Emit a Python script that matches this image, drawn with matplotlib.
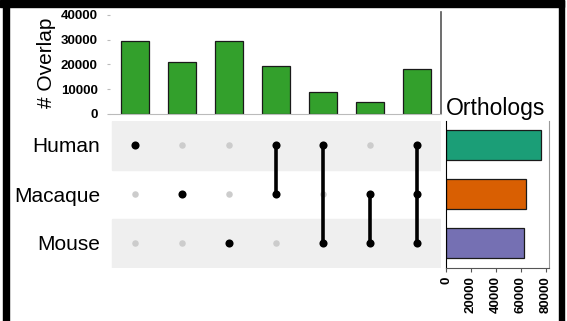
import matplotlib.pyplot as plt
from matplotlib.patches import Rectangle

plt.rcParams['font.family'] = ['Liberation Sans', 'DejaVu Sans']

species = ["Human", "Macaque", "Mouse"]
species_colors = ["#1b9e77", "#d95f02", "#7570b3"]
set_sizes = [76000, 64200, 62100]

# which species take part in each intersection, left to right
intersections = [
    ["Human"],
    ["Macaque"],
    ["Mouse"],
    ["Human", "Macaque"],
    ["Human", "Mouse"],
    ["Macaque", "Mouse"],
    ["Human", "Macaque", "Mouse"],
]
overlap = [29600, 20900, 29500, 19400, 8800, 5000, 18200]

overlap_ticks = [0, 10000, 20000, 30000, 40000]
size_ticks = [0, 20000, 40000, 60000, 80000]

W, H = 567, 321
fig = plt.figure(figsize=(W / 100, H / 100), dpi=100)


def px_axes(x0, y0, x1, y1):
    # axes placed by pixel box (top-left origin)
    return fig.add_axes([x0 / W, 1 - y1 / H, (x1 - x0) / W, (y1 - y0) / H])


# black frame around the figure
for x0, y0, x1, y1 in [(3, 0, 9, H), (0, 0, 564, 6.5), (558.5, 0, 564, H)]:
    fig.patches.append(Rectangle((x0 / W, 1 - y1 / H), (x1 - x0) / W, (y1 - y0) / H,
                                 transform=fig.transFigure, color="black", zorder=10))

n = len(intersections)
row_y = {s: len(species) - 1 - i for i, s in enumerate(species)}

# intersection size bars
ax_bar = px_axes(110, 12, 441, 114)
ax_bar.bar(range(n), overlap, width=0.61, color="#33a02c", edgecolor="#1a1a1a", linewidth=0.9)
ax_bar.set_xlim(-0.53, 6.51)
ax_bar.set_ylim(0, 41200)
ax_bar.set_xticks([])
ax_bar.set_yticks(overlap_ticks)
ax_bar.set_yticklabels([str(t) for t in overlap_ticks], fontsize=9.5, fontweight="bold")
ax_bar.tick_params(axis="y", length=2, color="#bbbbbb", pad=7)
ax_bar.spines["top"].set_visible(False)
ax_bar.spines["left"].set_visible(False)
ax_bar.spines["bottom"].set_color("#bbbbbb")
ax_bar.spines["right"].set_color("#555555")
ax_bar.spines["right"].set_linewidth(1.2)
ax_bar.set_ylabel("# Overlap", fontsize=15, labelpad=3)

# membership matrix
ax_mat = px_axes(110, 120.5, 441, 267.5)
ax_mat.set_xlim(-0.53, 6.51)
ax_mat.set_ylim(-0.5, 2.5)
for s in species:
    if row_y[s] % 2 == 0:
        ax_mat.axhspan(row_y[s] - 0.5, row_y[s] + 0.5, xmin=0.006, xmax=1,
                       color="#efefef", zorder=0)
for i, members in enumerate(intersections):
    for s in species:
        if s not in members:
            ax_mat.scatter(i, row_y[s], s=22, color="#cccccc", zorder=2, linewidths=0)
    ys = [row_y[s] for s in members]
    if len(ys) > 1:
        ax_mat.plot([i, i], [min(ys), max(ys)], color="black", lw=2.6, zorder=3)
    ax_mat.scatter([i] * len(ys), ys, s=34, color="black", zorder=4, linewidths=0)
ax_mat.set_yticks([row_y[s] for s in species])
ax_mat.set_yticklabels(species, fontsize=15)
ax_mat.tick_params(axis="y", length=0, pad=7)
ax_mat.set_xticks([])
for sp in ax_mat.spines.values():
    sp.set_visible(False)

# set sizes
ax_set = px_axes(446, 120.5, 549, 268)
ax_set.barh([row_y[s] for s in species], set_sizes, height=0.61,
            color=species_colors, edgecolor="#1a1a1a", linewidth=0.9)
ax_set.set_ylim(-0.5, 2.5)
ax_set.set_xlim(0, 82400)
ax_set.set_yticks([])
ax_set.set_xticks(size_ticks)
ax_set.set_xticklabels([str(t) for t in size_ticks], rotation=90, fontsize=9.5,
                       fontweight="bold")
ax_set.tick_params(axis="x", length=3, color="#555555", pad=3)
ax_set.spines["top"].set_visible(False)
ax_set.spines["left"].set_color("black")
ax_set.spines["right"].set_color("#999999")
ax_set.spines["bottom"].set_color("#555555")
ax_set.set_title("Orthologs", fontsize=16.5, pad=4, loc="left", x=0.0)

fig.savefig("out.png", dpi=100, facecolor="white")
